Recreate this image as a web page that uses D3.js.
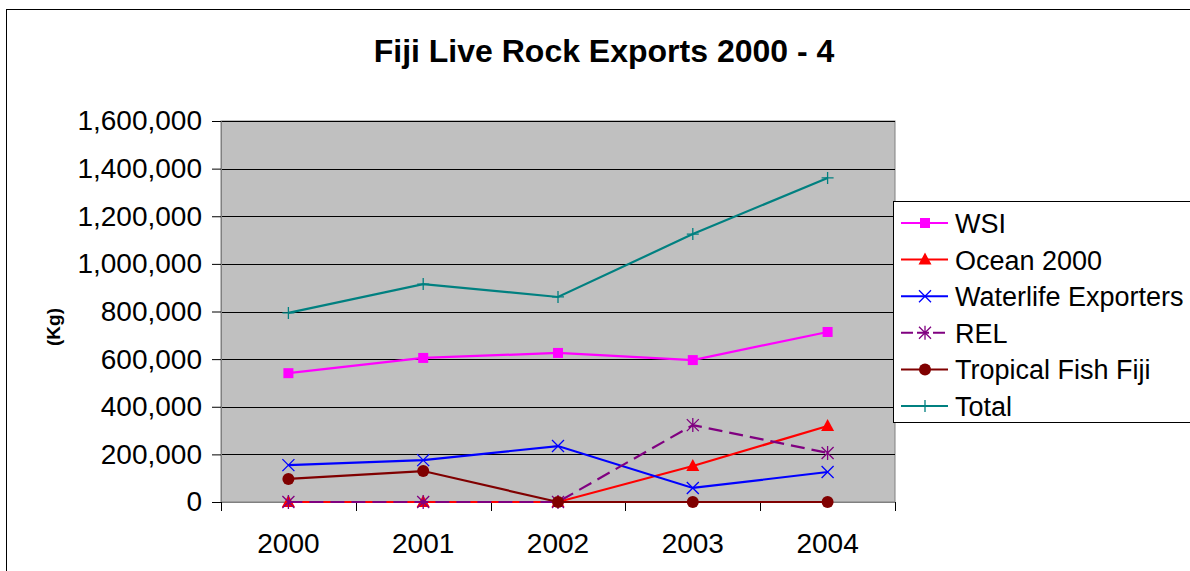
<!DOCTYPE html>
<html>
<head>
<meta charset="utf-8">
<script src="https://cdn.jsdelivr.net/npm/d3@7"></script>
<style>
  body { margin: 0; background: #fff; }
  svg { font-family: "Liberation Sans", Arial, sans-serif; }
</style>
</head>
<body>
<div id="chart-area"></div>
<script>
// data
var years = ["2000", "2001", "2002", "2003", "2004"];
var wsi = [541000, 605000, 626000, 596000, 714000];
var ocean = [0, 0, 0, 151000, 319000];
var waterlife = [155000, 176000, 235000, 59000, 126000];
var rel = [0, 0, 0, 323000, 206000];
var tropical = [97000, 130000, 0, 0, 0];
var total = [794000, 915000, 861000, 1125000, 1361000];
var yTicks = [0, 200000, 400000, 600000, 800000, 1000000, 1200000, 1400000, 1600000];

var series = [
    { name: "WSI", values: wsi, color: "#FF00FF", marker: "square" },
    { name: "Ocean 2000", values: ocean, color: "#FF0000", marker: "triangle" },
    { name: "Waterlife Exporters", values: waterlife, color: "#0000FF", marker: "x" },
    { name: "REL", values: rel, color: "#800080", marker: "star", dash: "14,7" },
    { name: "Tropical Fish Fiji", values: tropical, color: "#800000", marker: "circle" },
    { name: "Total", values: total, color: "#008080", marker: "plus" }
];

var W = 1190, H = 571;
var margin = { left: 221, right: 295, top: 121, bottom: 69 };
var width = W - margin.left - margin.right,
    height = H - margin.top - margin.bottom;

var svg = d3.select("#chart-area")
    .append("svg")
        .attr("width", W)
        .attr("height", H);

// outer chart border
svg.append("rect")
    .attr("x", 6.5).attr("y", 9.5)
    .attr("width", W).attr("height", H)
    .attr("fill", "#fff")
    .attr("stroke", "#000");

svg.append("text")
    .attr("x", 604)
    .attr("y", 62)
    .attr("text-anchor", "middle")
    .attr("font-size", "32px")
    .attr("font-weight", "bold")
    .text("Fiji Live Rock Exports 2000 - 4");

var g = svg.append("g")
    .attr("transform", "translate(" + margin.left + "," + margin.top + ")");

var x = d3.scaleBand()
    .domain(years)
    .range([0, width]);

var y = d3.scaleLinear()
    .domain([0, 1600000])
    .range([height, 0]);

// plot area
g.append("rect")
    .attr("width", width)
    .attr("height", height)
    .attr("fill", "#C0C0C0")
    .attr("stroke", "#808080");

// gridlines
g.selectAll(".grid")
    .data(yTicks.filter(function(d){ return d > 0; }))
    .enter().append("line")
        .attr("class", "grid")
        .attr("x1", 0).attr("x2", width)
        .attr("y1", function(d){ return Math.round(y(d)) + 0.5; })
        .attr("y2", function(d){ return Math.round(y(d)) + 0.5; })
        .attr("stroke", "#000");

// Y axis
var yAxisCall = d3.axisLeft(y)
    .tickValues(yTicks)
    .tickSize(9)
    .tickPadding(10)
    .tickFormat(d3.format(","));

var yAxisGroup = g.append("g")
    .call(yAxisCall);
yAxisGroup.select(".domain").attr("stroke", "#808080");
yAxisGroup.selectAll("text").attr("font-size", "28px").attr("fill", "#000")
    .attr("font-family", "Liberation Sans, Arial, sans-serif");

// X axis, ticks at category edges
var xAxisGroup = g.append("g")
    .attr("transform", "translate(0," + height + ")");
xAxisGroup.append("line")
    .attr("x1", 0).attr("x2", width)
    .attr("y1", 0.5).attr("y2", 0.5)
    .attr("stroke", "#808080");
var edges = years.map(function(d){ return x(d); }).concat([width]);
xAxisGroup.selectAll(".xtick")
    .data(edges)
    .enter().append("line")
        .attr("x1", function(d){ return Math.round(d) + 0.5; })
        .attr("x2", function(d){ return Math.round(d) + 0.5; })
        .attr("y1", 0).attr("y2", 9)
        .attr("stroke", "#000");
xAxisGroup.selectAll(".xlabel")
    .data(years)
    .enter().append("text")
        .attr("x", function(d){ return x(d) + x.bandwidth() / 2; })
        .attr("y", 51)
        .attr("text-anchor", "middle")
        .attr("font-size", "28px")
        .text(function(d){ return d; });

// Y label
svg.append("text")
    .attr("transform", "translate(60,327) rotate(-90)")
    .attr("text-anchor", "middle")
    .attr("font-size", "19px")
    .attr("font-weight", "bold")
    .text("(Kg)");

function drawMarker(sel, type, color) {
    if (type === "square") {
        sel.append("rect").attr("x", -5).attr("y", -5).attr("width", 10).attr("height", 10)
            .attr("fill", color);
    } else if (type === "triangle") {
        sel.append("path").attr("d", "M0,-7L6.5,5L-6.5,5Z").attr("fill", color);
    } else if (type === "circle") {
        sel.append("circle").attr("r", 6).attr("fill", color);
    } else if (type === "x") {
        sel.append("path").attr("d", "M-6,-6L6,6M-6,6L6,-6")
            .attr("stroke", color).attr("stroke-width", 1.3).attr("fill", "none");
    } else if (type === "star") {
        sel.append("path").attr("d", "M-6,-6L6,6M-6,6L6,-6M0,-7L0,7")
            .attr("stroke", color).attr("stroke-width", 1.3).attr("fill", "none");
    } else if (type === "plus") {
        sel.append("path").attr("d", "M-6,0L6,0M0,-6L0,6")
            .attr("stroke", color).attr("stroke-width", 1.3).attr("fill", "none");
    }
}

var line = d3.line()
    .x(function(d, i){ return x(years[i]) + x.bandwidth() / 2; })
    .y(function(d){ return y(d); });

series.forEach(function(s){
    var sg = g.append("g");
    sg.append("path")
        .attr("d", line(s.values))
        .attr("fill", "none")
        .attr("stroke", s.color)
        .attr("stroke-width", 2.2)
        .attr("stroke-dasharray", s.dash || null);
    sg.selectAll(".pt")
        .data(s.values)
        .enter().append("g")
            .attr("transform", function(d, i){
                return "translate(" + (x(years[i]) + x.bandwidth() / 2) + "," + y(d) + ")";
            })
            .each(function(){ drawMarker(d3.select(this), s.marker, s.color); });
});

// legend
var legend = svg.append("g")
    .attr("transform", "translate(893,201)");
legend.append("rect")
    .attr("x", 0.5).attr("y", 0.5)
    .attr("width", 310).attr("height", 221)
    .attr("fill", "#fff")
    .attr("stroke", "#000");
series.forEach(function(s, i){
    var row = legend.append("g")
        .attr("transform", "translate(0," + (22 + i * 36.6) + ")");
    row.append("line")
        .attr("x1", 8).attr("x2", 55)
        .attr("stroke", s.color)
        .attr("stroke-width", 2)
        .attr("stroke-dasharray", s.dash ? "12,4" : null);
    var m = row.append("g").attr("transform", "translate(32,0)");
    drawMarker(m, s.marker, s.color);
    row.append("text")
        .attr("x", 62)
        .attr("y", 10)
        .attr("font-size", "27px")
        .text(s.name);
});
</script>
</body>
</html>
